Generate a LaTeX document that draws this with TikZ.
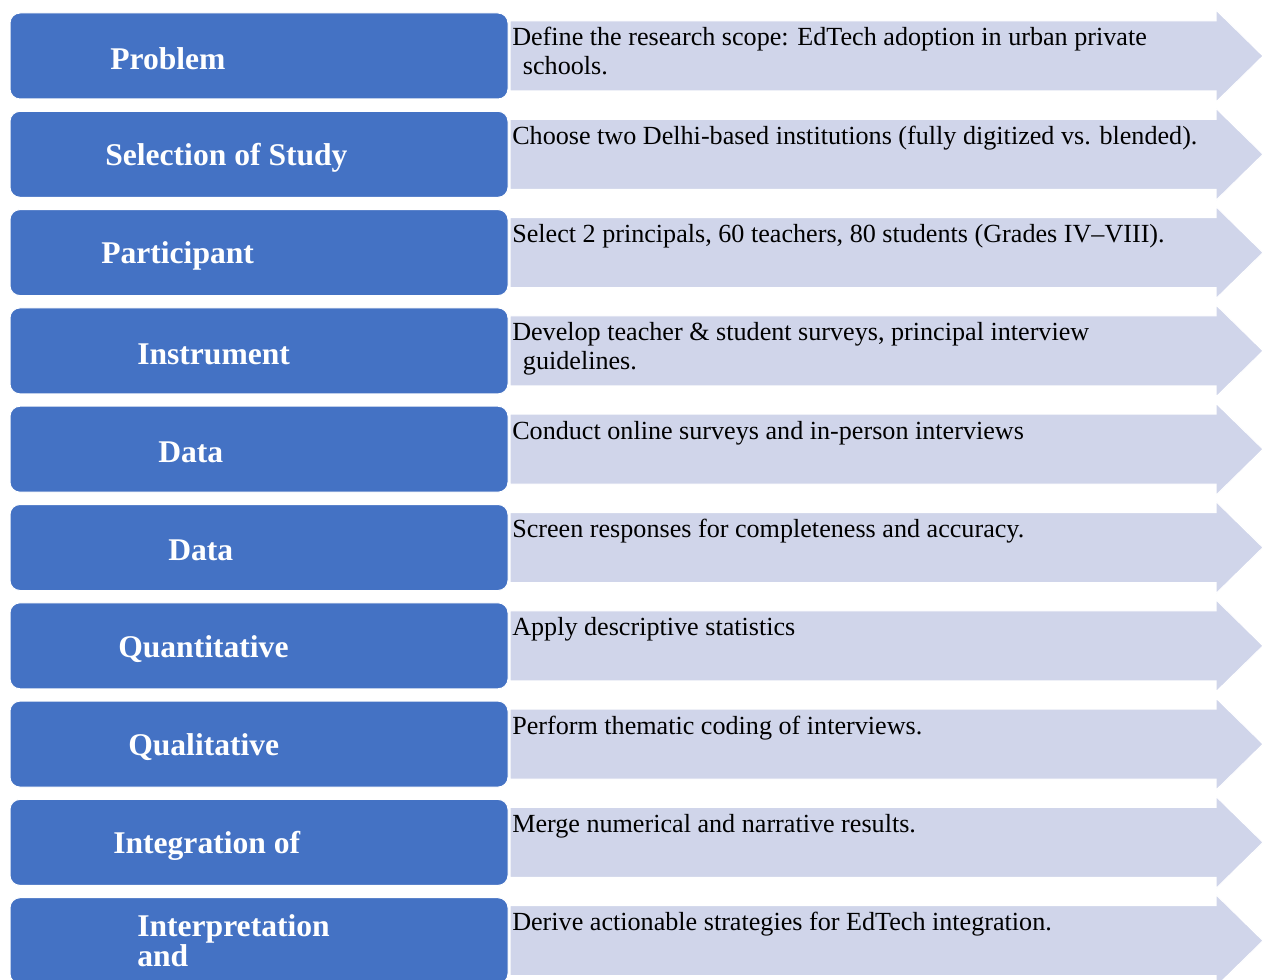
\documentclass[tikz,border=0pt]{standalone}
\usepackage{fontspec}
\setmainfont{Liberation Serif}
\definecolor{boxblue}{HTML}{4472C4}
\definecolor{arrowfill}{HTML}{D0D5EA}
\begin{document}
\begin{tikzpicture}[x=0.75pt,y=-0.75pt,
  stepbox/.style={draw=white, line width=0.75pt, fill=boxblue, rounded corners=7.5pt,
    minimum width=373.5pt, minimum height=64.5pt, inner sep=0pt},
  arrowshape/.style={fill=arrowfill, draw=white, line width=0.75pt},
  steplabel/.style={anchor=west, text=white, inner sep=0pt, align=left,
    font=\fontsize{23.7}{22.5}\selectfont\bfseries},
  desctext/.style={anchor=base west, inner sep=0pt,
    font=\fontsize{19.6}{21.75}\selectfont}]
\useasboundingbox (0,0) rectangle (1263,980);
\foreach \i/\lx/\ly/\lab/\desc in {
  0/110/3/{Problem}/{Define the research scope: EdTech adoption in urban private\\\hspace*{8pt}schools.},
  1/105/3/{Selection of Study}/{Choose two Delhi-based institutions (fully digitized vs. blended).},
  2/101/3/{Participant}/{Select 2 principals, 60 teachers, 80 students (Grades IV–VIII).},
  3/137/3/{Instrument}/{Develop teacher \& student surveys, principal interview\\\hspace*{8pt}guidelines.},
  4/158/3/{Data}/{Conduct online surveys and in-person interviews},
  5/168/3/{Data}/{Screen responses for completeness and accuracy.},
  6/118/3/{Quantitative}/{Apply descriptive statistics},
  7/128/3/{Qualitative}/{Perform thematic coding of interviews.},
  8/113/3/{Integration of}/{Merge numerical and narrative results.},
  9/137/0/{Interpretation\\and}/{Derive actionable strategies for EdTech integration.}}{
  \pgfmathsetmacro\cy{56+98.3*\i}
  \path[arrowshape] (510,{\cy-35}) -- (1216,{\cy-35}) -- (1216,{\cy-46}) -- (1263,\cy)
     -- (1216,{\cy+46}) -- (1216,{\cy+35}) -- (510,{\cy+35}) -- cycle;
  \node[stepbox] (box\i) at (259,\cy) {};
  \node[steplabel] (lab\i) at (\lx,{\cy+\ly}) {\lab};
  \node[desctext] (desc\i) at (512,{\cy-10})
    {\begin{tabular}[t]{@{}l@{}}\desc\end{tabular}};
}
\end{tikzpicture}
\end{document}
